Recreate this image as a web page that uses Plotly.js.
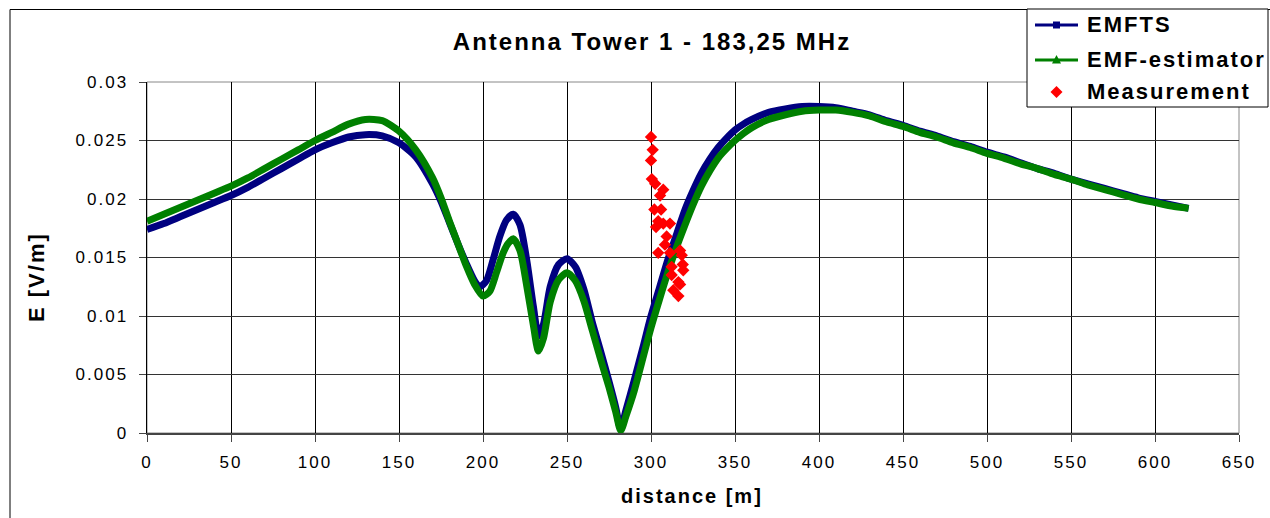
<!DOCTYPE html>
<html>
<head>
<meta charset="utf-8">
<script src="https://cdn.plot.ly/plotly-3.0.1.min.js"></script>
<style>
  html, body { margin: 0; padding: 0; background: #fff; }
  #chart { width: 1270px; height: 518px; }
  text { letter-spacing: 2px; }
</style>
</head>
<body>
<div id="chart"></div>
<script>
// Field strength along the route, antenna tower 1 (183,25 MHz)
const emftsDistance = [0,10,20,30,40,50,60,70,80,90,100,110,120,130,140,150,160,170,175,180,185,190,195,198,202,206,210,214,218,222,226,230,233,236,240,245,250,255,260,265,270,275,279,282,285,290,295,300,305,310,315,320,325,330,335,340,345,350,355,360,370,380,390,400,410,420,430,440,450,460,470,480,490,500,510,520,530,540,550,560,570,580,590,600,610,620];
const emftsField = [0.0174,0.0179,0.0185,0.0191,0.0197,0.0203,0.0210,0.0218,0.0226,0.0234,0.0242,0.0248,0.0253,0.0255,0.0254,0.0248,0.0236,0.0213,0.0198,0.0180,0.0162,0.0145,0.0130,0.0125,0.0130,0.0148,0.0168,0.0182,0.0187,0.0178,0.0148,0.0108,0.0083,0.0093,0.0125,0.0144,0.0149,0.0142,0.0123,0.0095,0.0070,0.0044,0.0022,0.0003,0.0019,0.0045,0.0072,0.0100,0.0124,0.0148,0.0169,0.0190,0.0207,0.0222,0.0234,0.0244,0.0252,0.0259,0.0264,0.0268,0.0274,0.0277,0.0279,0.0279,0.0278,0.0275,0.0272,0.0267,0.0263,0.0258,0.0254,0.0249,0.0245,0.0240,0.0236,0.0231,0.0226,0.0222,0.0217,0.0213,0.0209,0.0205,0.0201,0.0198,0.0195,0.0192];

const estimatorDistance = [0,10,20,30,40,50,60,70,80,90,100,110,120,130,140,150,160,170,175,180,185,190,195,200,204,208,212,215,218,222,226,230,233,236,240,245,250,255,260,265,270,275,279,282,285,290,295,300,305,310,315,320,325,330,335,340,345,350,355,360,370,380,390,400,410,420,430,440,450,460,470,480,490,500,510,520,530,540,550,560,570,580,590,600,610,620];
const estimatorField = [0.0181,0.0187,0.0193,0.0199,0.0205,0.0211,0.0218,0.0226,0.0234,0.0242,0.0250,0.0257,0.0264,0.0268,0.0267,0.0258,0.0242,0.0218,0.0201,0.0181,0.0162,0.0143,0.0127,0.0117,0.0121,0.0137,0.0154,0.0162,0.0166,0.0156,0.0126,0.0092,0.0070,0.0081,0.0112,0.0131,0.0137,0.0130,0.0113,0.0088,0.0063,0.0039,0.0018,0.0002,0.0014,0.0036,0.0063,0.0090,0.0114,0.0137,0.0158,0.0177,0.0195,0.0211,0.0224,0.0235,0.0243,0.0250,0.0256,0.0261,0.0268,0.0272,0.0275,0.0276,0.0276,0.0274,0.0271,0.0266,0.0262,0.0257,0.0253,0.0248,0.0244,0.0239,0.0235,0.0230,0.0226,0.0221,0.0217,0.0212,0.0208,0.0204,0.0200,0.0197,0.0194,0.0192];

const measuredDistance = [300,301,300,300.5,302.5,307.3,305.4,302,306,304.3,307.3,311.3,303,309.3,308.3,304.3,311.3,317.3,318.3,312.3,318.9,319.2,312.3,316.3,313.3,317.3,316.3];
const measuredField = [0.0253,0.0242,0.0233,0.0217,0.0213,0.0208,0.0203,0.0191,0.0191,0.0181,0.0179,0.0179,0.0176,0.0168,0.0161,0.0154,0.0154,0.0156,0.0152,0.0142,0.0144,0.0139,0.0135,0.0129,0.0122,0.0127,0.0117];

const seriesNames = ['EMFTS', 'EMF-estimator', 'Measurement'];
const chartTitle = 'Antenna Tower 1 - 183,25 MHz';
const xTitle = 'distance [m]';
const yTitle = 'E [V/m]';

const NAVY = '#000080', GREEN = '#008000', RED = '#ff0000';
const FONT = '"Liberation Sans", Arial, sans-serif';

// plot area in pixels: left 147, right 1239, top 82, bottom 433
const L = 147, R = 1239, T = 82, B = 433, W = 1270, H = 518;
const px = v => (v - L) / (R - L);
const py = v => (B - v) / (B - T);

const traces = [
  { x: emftsDistance, y: emftsField, name: seriesNames[0], type: 'scatter', mode: 'lines',
    line: { color: NAVY, width: 7, shape: 'spline', smoothing: 0.7 }, hoverinfo: 'skip' },
  { x: estimatorDistance, y: estimatorField, name: seriesNames[1], type: 'scatter', mode: 'lines',
    line: { color: GREEN, width: 7, shape: 'spline', smoothing: 0.7 }, hoverinfo: 'skip' },
  { x: measuredDistance, y: measuredField, name: seriesNames[2], type: 'scatter', mode: 'markers',
    marker: { symbol: 'diamond', size: 9.5, color: RED }, hoverinfo: 'skip' }
];

// legend box drawn as paper-space decorations
const legBox = { x0: 1027, x1: 1268, y0: 9, y1: 107 };
const legRows = [25, 60, 92];
const keyX0 = 1035, keyX1 = 1078, keyMid = 1056.5, textX = 1085;

const legendShapes = [
  { type: 'rect', xref: 'paper', yref: 'paper', x0: px(legBox.x0), x1: px(legBox.x1), y0: py(legBox.y1), y1: py(legBox.y0),
    line: { color: '#000', width: 1 }, fillcolor: '#fff', layer: 'above' },
  { type: 'line', xref: 'paper', yref: 'paper', x0: px(keyX0), x1: px(keyX1), y0: py(legRows[0]), y1: py(legRows[0]),
    line: { color: NAVY, width: 3 }, layer: 'above' },
  { type: 'rect', xref: 'paper', yref: 'paper', x0: px(keyMid - 3.5), x1: px(keyMid + 3.5), y0: py(legRows[0] + 3.5), y1: py(legRows[0] - 3.5),
    line: { width: 0 }, fillcolor: NAVY, layer: 'above' },
  { type: 'line', xref: 'paper', yref: 'paper', x0: px(keyX0), x1: px(keyX1), y0: py(legRows[1]), y1: py(legRows[1]),
    line: { color: GREEN, width: 3 }, layer: 'above' },
  { type: 'path', xref: 'paper', yref: 'paper', layer: 'above', fillcolor: GREEN, line: { width: 0 },
    path: `M ${px(keyMid - 4.5)} ${py(legRows[1] + 3.5)} L ${px(keyMid + 4.5)} ${py(legRows[1] + 3.5)} L ${px(keyMid)} ${py(legRows[1] - 5)} Z` },
  { type: 'path', xref: 'paper', yref: 'paper', layer: 'above', fillcolor: RED, line: { width: 0 },
    path: `M ${px(keyMid - 6)} ${py(legRows[2])} L ${px(keyMid)} ${py(legRows[2] - 6)} L ${px(keyMid + 6)} ${py(legRows[2])} L ${px(keyMid)} ${py(legRows[2] + 6)} Z` }
];

const legendLabels = seriesNames.map((name, i) => ({
  text: name, xref: 'paper', yref: 'paper', x: px(textX), y: py(legRows[i]),
  xanchor: 'left', yanchor: 'middle', showarrow: false,
  font: { family: FONT, size: 22, weight: 'bold', color: '#000' }
}));

const layout = {
  width: W, height: H, autosize: false, showlegend: false,
  paper_bgcolor: '#ffffff', plot_bgcolor: '#ffffff',
  margin: { l: L, r: W - R, t: T, b: H - B, pad: 0, autoexpand: false },
  font: { family: FONT, color: '#000' },
  title: { text: chartTitle, font: { family: FONT, size: 24, weight: 'bold', color: '#000' },
           xref: 'paper', x: px(652), xanchor: 'center', yref: 'container', y: 1 - 42 / H, yanchor: 'middle' },
  xaxis: {
    range: [0, 650], dtick: 50, tick0: 0,
    showgrid: true, gridcolor: '#000', gridwidth: 1,
    showline: true, linecolor: '#444', linewidth: 1.5,
    ticks: 'outside', ticklen: 7, tickcolor: '#444', tickwidth: 1,
    tickfont: { family: FONT, size: 17, color: '#000' },
    zeroline: false, ticklabelstandoff: 6
  },
  yaxis: {
    range: [0, 0.03], dtick: 0.005, tick0: 0,
    showgrid: true, gridcolor: '#333', gridwidth: 1,
    showline: true, linecolor: '#000', linewidth: 1.5,
    ticks: 'outside', ticklen: 7, tickcolor: '#444', tickwidth: 1,
    tickfont: { family: FONT, size: 17, color: '#000' },
    zeroline: false, ticklabelstandoff: 7
  },
  shapes: [
    // outer chart frame
    { type: 'rect', xref: 'paper', yref: 'paper', x0: px(10), x1: px(1290), y0: py(540), y1: py(9.5),
      line: { color: '#000', width: 1 }, fillcolor: 'rgba(0,0,0,0)', layer: 'below' },
    // plot area border (top and right)
    { type: 'rect', xref: 'paper', yref: 'paper', x0: 0, x1: 1, y0: 0, y1: 1,
      line: { color: '#888', width: 1 }, fillcolor: 'rgba(0,0,0,0)', layer: 'below' }
  ].concat(legendShapes),
  annotations: [
    { text: xTitle, xref: 'paper', yref: 'paper', x: px(692), y: py(496), xanchor: 'center', yanchor: 'middle',
      showarrow: false, font: { family: FONT, size: 20, weight: 'bold', color: '#000' } },
    { text: yTitle, xref: 'paper', yref: 'paper', x: px(36), y: py(277), xanchor: 'center', yanchor: 'middle',
      textangle: -90, showarrow: false, font: { family: FONT, size: 22, weight: 'bold', color: '#000' } }
  ].concat(legendLabels)
};

Plotly.newPlot('chart', traces, layout, { displayModeBar: false, staticPlot: true });
</script>
</body>
</html>
